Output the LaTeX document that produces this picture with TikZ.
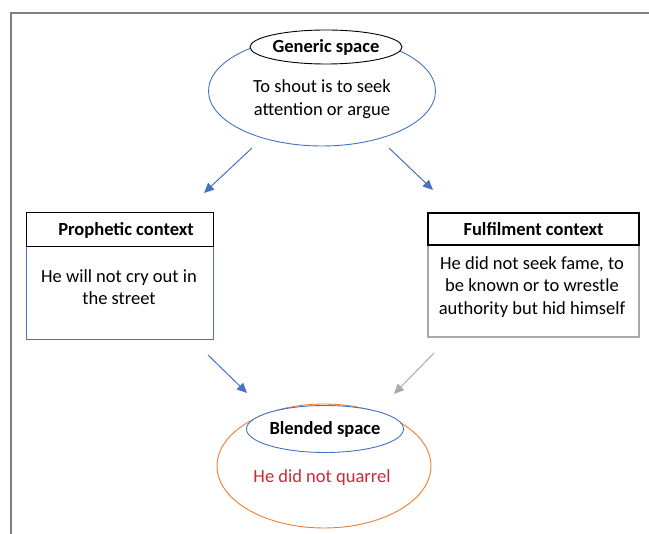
\documentclass[tikz,border=0pt]{standalone}
\usepackage{fontspec}
\setmainfont{Carlito}
\usetikzlibrary{shapes.geometric,arrows.meta,positioning}

\definecolor{wordblue}{RGB}{68,114,196}
\definecolor{wordgray}{RGB}{170,170,170}
\definecolor{wordorange}{RGB}{237,125,49}
\definecolor{quarrelred}{RGB}{204,41,54}

\newcommand{\diagfont}{\fontsize{18.5}{22.5}\selectfont}

\tikzset{
  spacering/.style={ellipse, draw=wordblue, line width=0.9pt, inner sep=0pt},
  spacetitle/.style={ellipse, draw, fill=white, line width=0.9pt, inner sep=0pt, font=\diagfont\bfseries},
  boxhead/.style={draw, line width=1pt, font=\diagfont\bfseries},
  boxbody/.style={draw=wordblue, line width=1pt},
  bodytext/.style={align=center, font=\diagfont},
  link/.style={wordblue, line width=1pt, -{Triangle[length=10pt,width=9pt]}},
}

\begin{document}
\begin{tikzpicture}[x=1pt, y=-1pt, font=\diagfont]

\useasboundingbox (0,0) rectangle (649,534);

% Frame
\draw[gray, line width=1.5pt] (11,534) -- (11,13) -- (649,13);

% Generic space
\node[spacering, minimum width=227pt, minimum height=110pt] (genOuter) at (322,91) {};
\node[spacetitle, minimum width=152pt, minimum height=34pt] (genTitle) at (326,47) {Generic space};
\node[bodytext] (genText) at (322,99) {To shout is to seek\\attention or argue};

% Prophetic context
\node[boxbody, minimum width=187pt, minimum height=93pt] (proBody) at (119.5,293.5) {};
\node[boxhead, minimum width=187pt, minimum height=34pt] (proHead) at (119.5,230) {};
\node[font=\diagfont\bfseries] (proTitle) at (126,230) {Prophetic context};
\node[bodytext] (proText) at (119,287) {He will not cry out in\\the street};

% Fulfilment context
\node[draw=wordgray, line width=2.5pt, minimum width=211pt, minimum height=92pt] (fulBody) at (533.5,291) {};
\node[boxhead, line width=2.5pt, minimum width=211pt, minimum height=32pt] (fulHead) at (533.5,229) {Fulfilment context};
\node[bodytext] (fulText) at (532,287) {He did not seek fame, to\\be known or to wrestle\\authority but hid himself};

% Blended space
\node[spacering, draw=wordorange, minimum width=214pt, minimum height=124pt] (blendOuter) at (324,466) {};
\node[spacetitle, draw=wordblue, minimum width=137pt, minimum height=47pt] (blendTitle) at (325,429) {Blended space};
\node[bodytext, quarrelred] (blendText) at (322,478) {He did not quarrel};

% Arrow ends
\coordinate (a1s) at (252,148);
\coordinate (a1e) at (204,193);
\coordinate (a2s) at (389,148);
\coordinate (a2e) at (433,190);
\coordinate (a3s) at (208,355);
\coordinate (a3e) at (247,393);
\coordinate (a4s) at (434,353);
\coordinate (a4e) at (394,394);

% Arrows
\draw[link] (a1s) -- (a1e);
\draw[link] (a2s) -- (a2e);
\draw[link] (a3s) -- (a3e);
\draw[link, wordgray] (a4s) -- (a4e);

\end{tikzpicture}
\end{document}
